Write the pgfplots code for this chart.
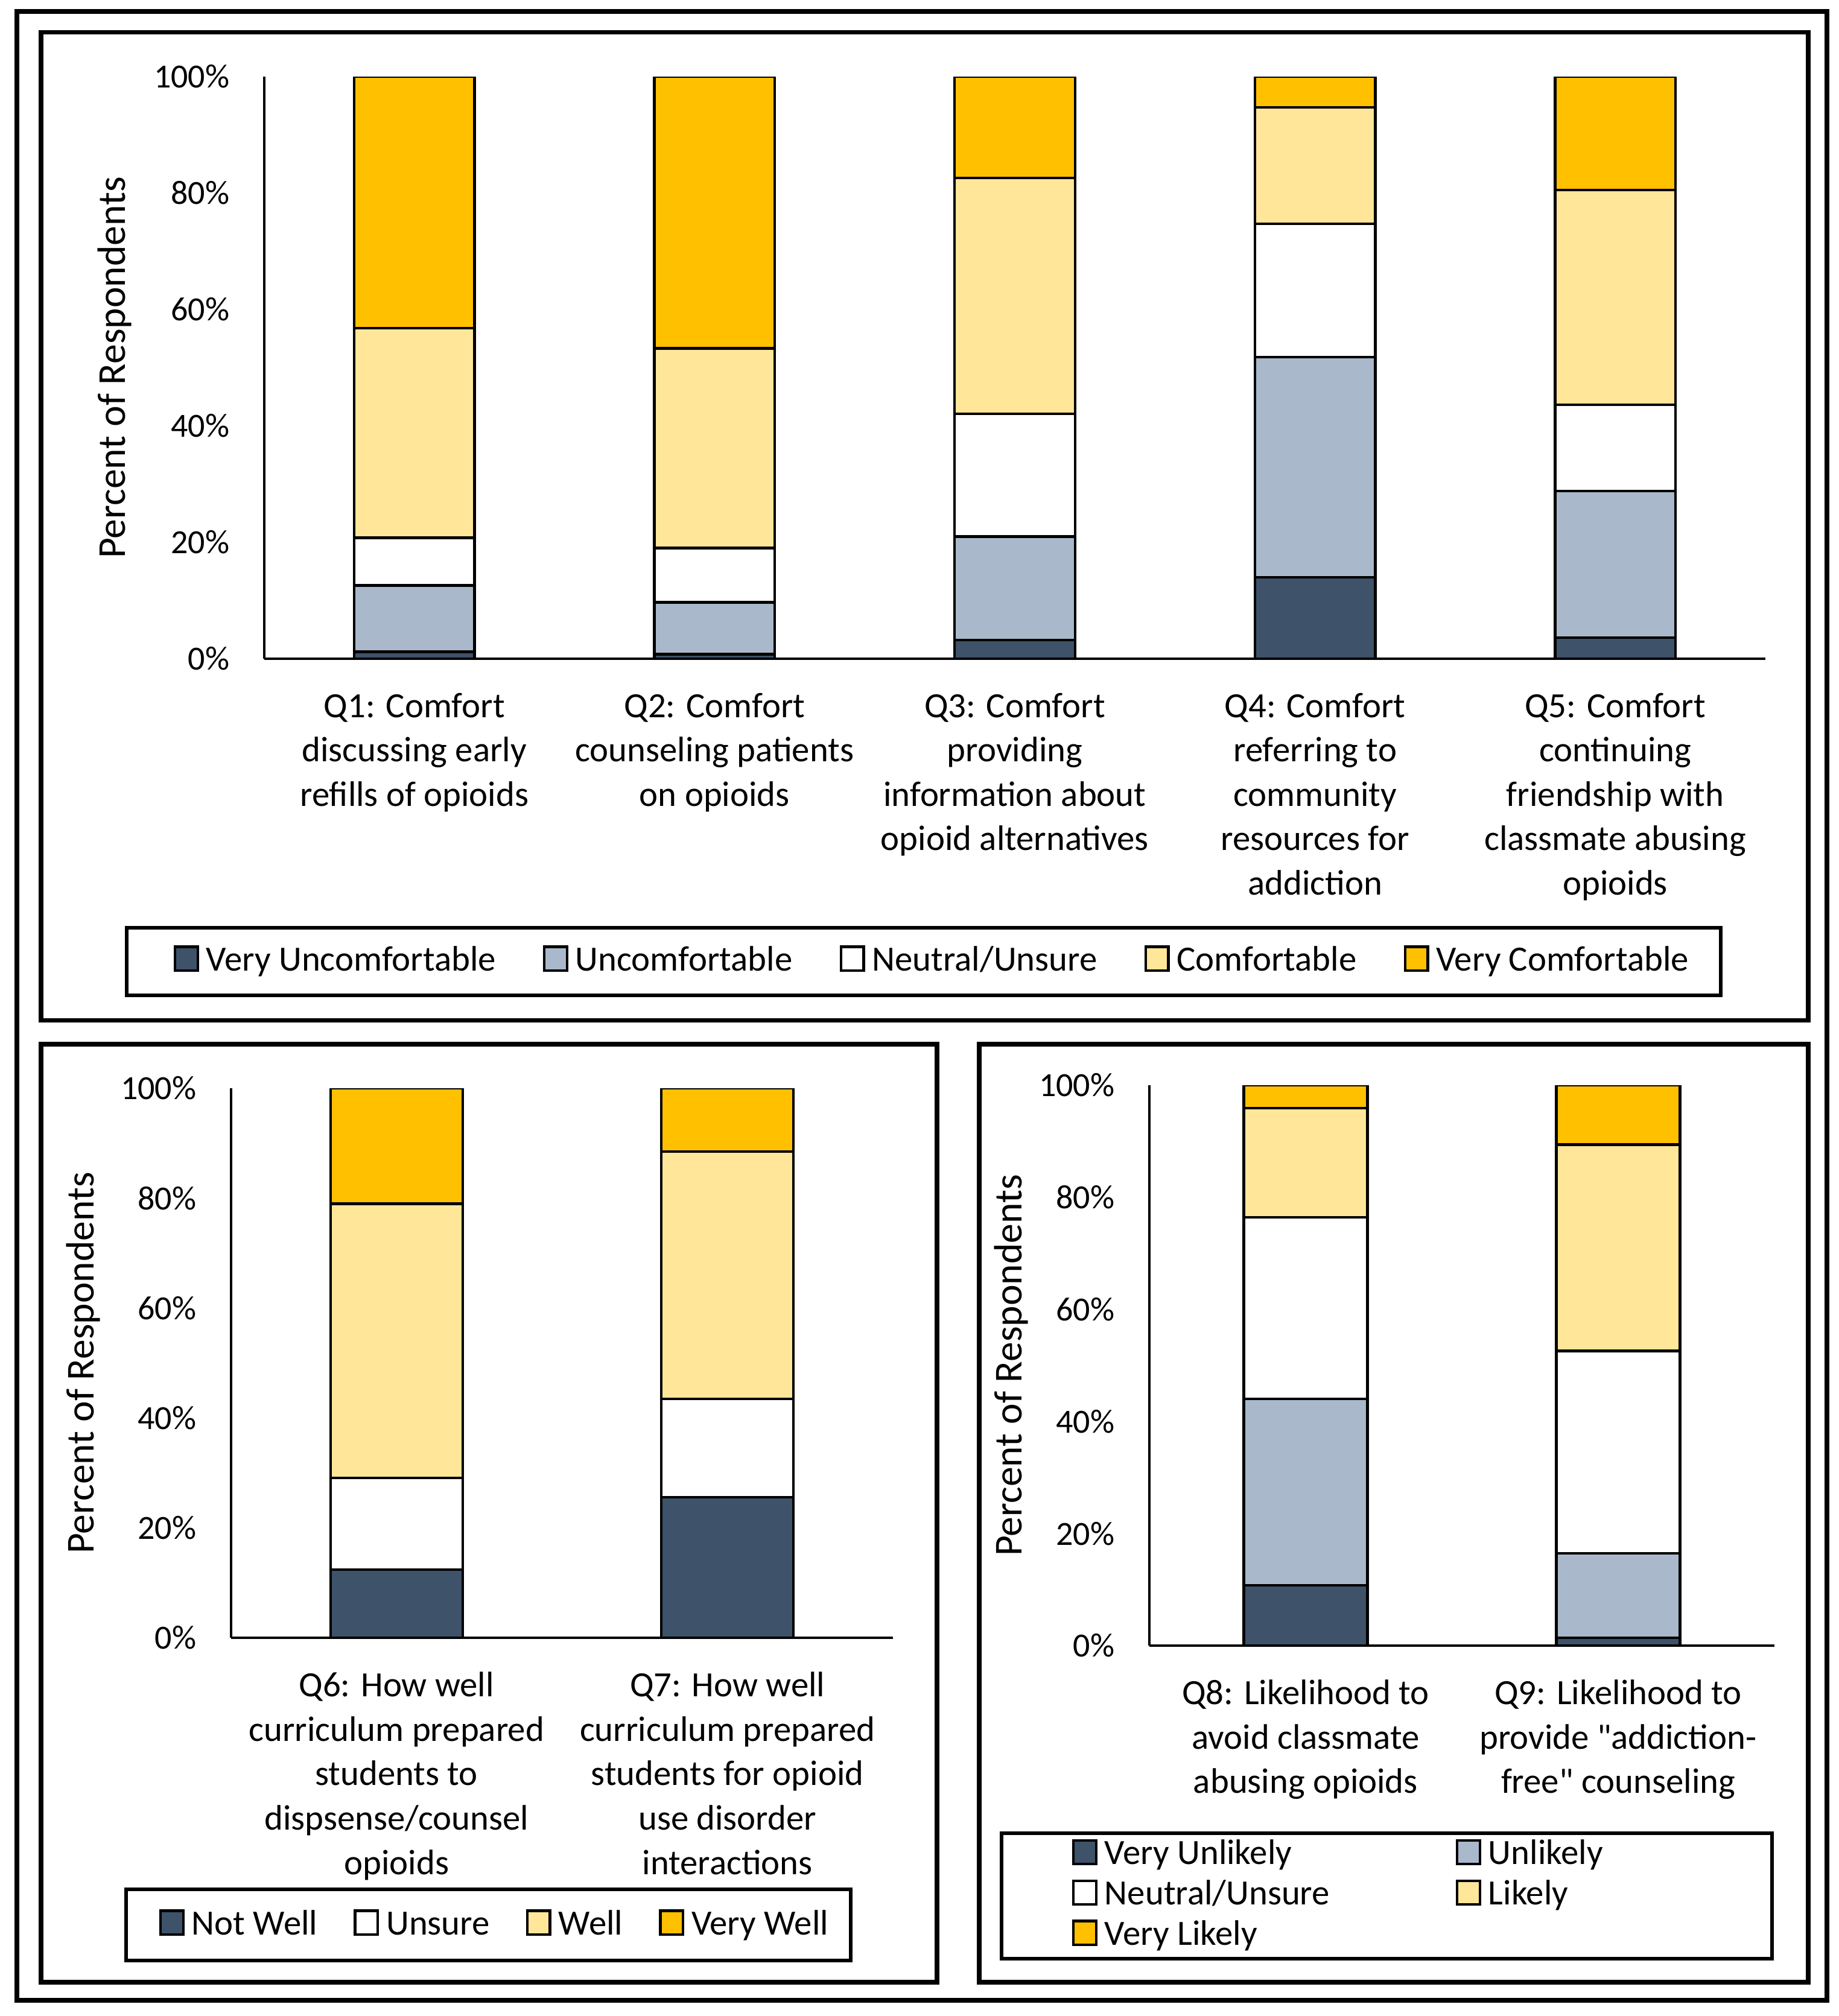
\documentclass[border=0pt]{standalone}
\usepackage{fontspec}
\setmainfont{Carlito}[Ligatures=TeXOff]
\usepackage{pgfplots}
\pgfplotsset{compat=1.18}
\definecolor{cVU}{HTML}{3E5269}
\definecolor{cU}{HTML}{A9B9CB}
\definecolor{cL}{HTML}{FFE699}
\definecolor{cVL}{HTML}{FFC000}
\newcommand{\tickfont}{\fontsize{14}{16.8}\selectfont}
\newcommand{\labfont}{\fontsize{14.7}{18.4}\selectfont}
\newcommand{\ylabfont}{\fontsize{16.4}{19.7}\selectfont}
\pgfplotsset{
  common/.style={
    scale only axis,
    ybar stacked,
    ymin=0, ymax=100,
    ytick={0,20,40,60,80,100},
    yticklabels={0\%,20\%,40\%,60\%,80\%,100\%},
    xtick=data,
    major tick length=0pt,
    axis x line*=bottom, axis y line*=left,
    axis line style={-, line width=1pt, black},
    yticklabel style={font=\tickfont, inner sep=0pt, xshift=-14.25pt},
    xticklabel style={font=\labfont, align=center, anchor=north, inner sep=0pt, yshift=-14pt},
    ylabel={Percent of Respondents},
    ylabel style={font=\ylabfont, anchor=center},
    every axis plot/.append style={draw=black, line width=1.1pt},
    legend image code/.code={\draw[##1, draw=black, line width=1.1pt] (0pt,-3.7pt) rectangle (9.4pt,6.1pt);},
    legend style={draw=none, fill=none, inner sep=0pt, outer sep=0pt,
      nodes={inner sep=0pt, text height=10.5pt, text depth=3pt, font=\labfont},
      /tikz/every odd column/.style={column sep=3pt}},
    legend cell align=left,
  }
}
\begin{document}
\begin{tikzpicture}
\useasboundingbox (0pt,0pt) rectangle (762pt,-835.5pt);
\begin{scope}[x=0.25pt,y=-0.25pt]
\draw[line width=2pt] (27.5,19) rectangle (3028,3316);
\draw[line width=1.9pt] (68,53.5) rectangle (2997,1691.5);
\draw[line width=1.9pt] (68,1731) rectangle (1553,3286);
\draw[line width=1.9pt] (1623,1731) rectangle (2997,3286);
\draw[line width=1.6pt] (210,1538) rectangle (2852,1650);
\draw[line width=1.6pt] (209,3132) rectangle (1410,3250);
\draw[line width=1.6pt] (1660,3039) rectangle (2937,3247);
\end{scope}

% ---------------- top chart ----------------
\begin{axis}[common, at={(109.5pt,-273pt)}, anchor=south west,
  width=622pt, height=241.25pt,
  xmin=-0.5, xmax=4.5, bar width=49.9pt,
  xticklabels={{Q1: Comfort\\discussing early\\refills of opioids},
               {Q2: Comfort\\counseling patients\\on opioids},
               {Q3: Comfort\\providing\\information about\\opioid alternatives},
               {Q4: Comfort\\referring to\\community\\resources for\\addiction},
               {Q5: Comfort\\continuing\\friendship with\\classmate abusing\\opioids}},
  ylabel style={at={(axis description cs:-0.0997,0.5)}},
  legend columns=5,
  legend style={at={(axis description cs:0.4443,-0.5202)}, anchor=center,
    /tikz/every even column/.style={column sep=19.5pt}},
]
\addplot[fill=cVU] coordinates {(0,1.2) (1,0.8) (2,3.2) (3,14.0) (4,3.6)};
\addplot[fill=cU]  coordinates {(0,11.4) (1,8.9) (2,17.8) (3,37.8) (4,25.2)};
\addplot[fill=white] coordinates {(0,8.2) (1,9.3) (2,21.1) (3,22.9) (4,14.8)};
\addplot[fill=cL]  coordinates {(0,36.0) (1,34.3) (2,40.5) (3,20.0) (4,36.9)};
\addplot[fill=cVL] coordinates {(0,43.2) (1,46.7) (2,17.4) (3,5.3) (4,19.5)};
\legend{Very Uncomfortable, Uncomfortable, Neutral/Unsure, Comfortable, Very Comfortable}
\end{axis}

% ---------------- bottom left ----------------
\begin{axis}[common, at={(95.75pt,-678.75pt)}, anchor=south west,
  width=274.25pt, height=227.75pt,
  xmin=-0.5, xmax=1.5, bar width=54.75pt,
  xticklabels={{Q6: How well\\curriculum prepared\\students to\\dispsense/counsel\\opioids},
               {Q7: How well\\curriculum prepared\\students for opioid\\use disorder\\interactions}},
  ylabel style={at={(axis description cs:-0.2233,0.5)}},
  legend columns=4,
  legend style={at={(axis description cs:0.397,-0.5236)}, anchor=center,
    /tikz/every even column/.style={column sep=15pt}},
]
\addplot[fill=cVU] coordinates {(0,12.4) (1,25.6)};
\addplot[fill=white] coordinates {(0,16.7) (1,17.9)};
\addplot[fill=cL]  coordinates {(0,49.9) (1,45.0)};
\addplot[fill=cVL] coordinates {(0,21.0) (1,11.5)};
\legend{Not Well, Unsure, Well, Very Well}
\end{axis}

% ---------------- bottom right ----------------
\begin{axis}[common, at={(476.25pt,-682pt)}, anchor=south west,
  width=259pt, height=232.25pt,
  xmin=-0.5, xmax=1.5, bar width=51.25pt,
  xticklabels={{Q8: Likelihood to\\avoid classmate\\abusing opioids},
               {Q9: Likelihood to\\provide "addiction-\\free" counseling}},
  ylabel style={at={(axis description cs:-0.221,0.5)}},
  legend columns=2,
  legend style={at={(axis description cs:-0.1236,-0.3449)}, anchor=north west,
    row sep=3.2pt,
    /tikz/every even column/.style={column sep=52.25pt}},
]
\addplot[fill=cVU] coordinates {(0,10.8) (1,1.4)};
\addplot[fill=cU]  coordinates {(0,33.2) (1,15.1)};
\addplot[fill=white] coordinates {(0,32.4) (1,36.1)};
\addplot[fill=cL]  coordinates {(0,19.5) (1,36.8)};
\addplot[fill=cVL] coordinates {(0,4.1) (1,10.6)};
\legend{Very Unlikely, Unlikely, Neutral/Unsure, Likely, Very Likely}
\end{axis}
\end{tikzpicture}
\end{document}
